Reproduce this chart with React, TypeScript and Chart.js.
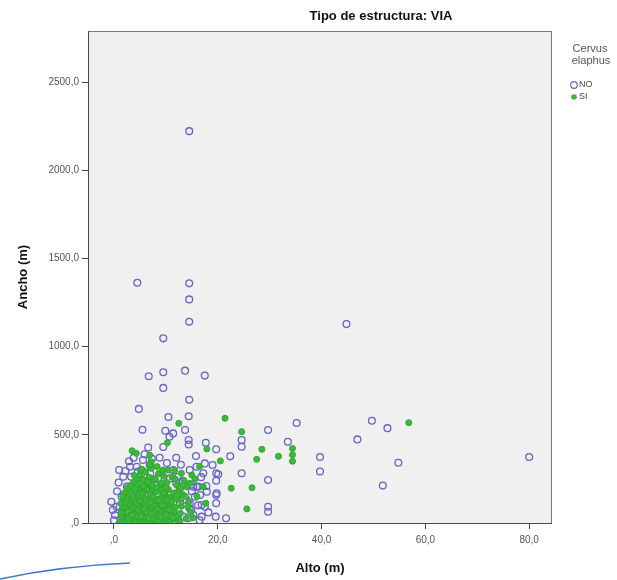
import React, { useEffect, useRef } from 'react';
import { Chart, registerables } from 'chart.js';

Chart.register(...registerables);

const FONT = '"Liberation Sans", Arial, sans-serif';

const TITLE = 'Tipo de estructura: VIA';
const X_LABEL = 'Alto (m)';
const Y_LABEL = 'Ancho (m)';
const LEGEND_TITLE = ['Cervus', 'elaphus'];
const SERIES_NAMES = ['NO', 'SI'];

const X_TICKS = [0, 20, 40, 60, 80];
const Y_TICKS = [0, 500, 1000, 1500, 2000, 2500];
const X_RANGE = [-5, 84.4];
const Y_RANGE = [0, 2790];

// [Alto, Ancho] — Cervus elaphus = NO
const NO_POINTS: [number, number][] = [
  [14.5, 2222], [4.5, 1362], [14.5, 1359], [14.5, 1268], [14.5, 1141], [9.5, 1047], [44.8, 1128],
  [6.7, 832], [9.5, 855], [13.7, 864], [17.5, 836], [9.5, 766], [14.5, 699], [4.8, 647],
  [10.5, 601], [14.4, 605], [5.5, 529], [9.9, 523], [13.7, 527], [29.7, 527], [11.4, 508],
  [10.7, 489], [14.4, 470], [14.4, 445], [17.7, 455], [24.6, 470], [24.6, 432], [33.5, 461],
  [35.2, 567], [6.6, 428], [9.5, 431], [19.7, 418], [22.4, 378], [17.5, 338], [24.6, 282],
  [19.7, 282], [19.7, 240], [29.7, 244], [19.7, 159], [19.7, 112], [19.6, 36], [21.6, 27],
  [29.7, 92], [29.7, 64], [19.8, 168], [19.0, 329], [20.1, 276],
  [39.7, 374], [39.7, 292], [46.9, 474], [49.7, 580], [52.7, 538], [54.8, 342], [51.8, 212], [80.0, 374],
  [1.8, 262], [2.5, 206], [1.5, 149], [0.5, 92], [0.2, 45], [3.1, 319], [4.4, 319], [5.6, 357],
  [6.9, 329], [5.0, 244], [6.6, 168], [8.2, 130], [12.1, 168], [12.7, 112], [14.0, 130],
  [14.6, 83], [15.9, 206], [16.6, 159], [15.3, 45], [13.4, 36], [11.4, 55], [16.9, 36],
  [17.5, 92], [17.9, 177], [12.4, 262], [11.4, 300], [10.8, 253], [14.6, 300], [15.9, 319],
  [17.2, 282], [4.6, 291], [4.6, 225], [3.3, 177], [12.0, 225], [12.7, 197], [14.9, 74],
  [12.3, 27], [14.3, 27], [-0.2, 74], [5.3, 300], [5.9, 187], [4.6, 206], [7.8, 225],
  [3.3, 262], [5.3, 282], [2.1, 130], [1.1, 92], [15.3, 206], [16.2, 206], [15.6, 149],
  [14.6, 112], [16.9, 102], [8.5, 255], [9.8, 215], [7.0, 280], [3.0, 95], [2.6, 60],
  [1.3, 20], [16.2, 100], [15.0, 180], [13.2, 240], [10.2, 340], [8.8, 370], [12.9, 330],
  [0.6, 180], [0.9, 230], [2.2, 295], [2.9, 350], [3.8, 370], [5.9, 390], [7.3, 365],
  [12.0, 370], [15.8, 380], [16.8, 260], [17.8, 210], [18.2, 60], [16.5, 15], [0.0, 15],
  [-0.5, 120], [1.0, 300], [9.5, 10], [7.0, 5], [11.8, 8],
];

// [Alto, Ancho] — Cervus elaphus = SI
const SI_POINTS: [number, number][] = [
  [12.5, 565], [21.4, 594], [24.6, 518], [10.3, 455], [28.5, 418], [17.9, 420], [27.5, 361],
  [31.7, 378], [20.5, 352], [22.6, 197], [26.6, 200], [25.6, 80], [17.7, 112], [34.4, 423],
  [34.4, 387], [34.4, 350], [56.8, 569], [3.5, 410], [4.3, 395], [6.9, 385], [7.2, 347],
  [11.7, 300], [13.0, 282], [14.6, 225], [17.2, 206], [15.0, 272],
  [1.2, 8], [1.8, 22], [2.3, 5], [2.6, 35], [3.0, 14], [3.3, 52], [3.5, 3], [3.9, 28],
  [4.1, 70], [4.4, 10], [4.6, 45], [4.9, 92], [5.1, 18], [5.3, 60], [5.6, 4], [5.8, 110],
  [6.0, 33], [6.2, 75], [6.5, 12], [6.7, 140], [6.9, 50], [7.1, 88], [7.3, 6], [7.5, 25],
  [7.8, 120], [8.0, 62], [8.2, 15], [8.5, 40], [8.7, 95], [9.0, 8], [9.2, 150], [9.4, 55],
  [9.7, 28], [10.0, 80], [10.3, 12], [10.6, 110], [10.9, 45], [11.3, 20], [11.6, 70],
  [12.0, 35], [12.4, 10], [12.8, 55], [2.0, 60], [2.4, 85], [2.9, 120], [3.2, 100],
  [3.6, 150], [4.0, 130], [4.3, 175], [4.8, 160], [5.2, 200], [5.5, 140], [5.9, 180],
  [6.3, 220], [6.6, 105], [7.0, 165], [7.4, 195], [7.7, 240], [8.1, 175], [8.4, 135],
  [8.8, 210], [9.1, 185], [9.5, 120], [9.9, 160], [10.2, 230], [10.5, 190], [10.8, 145],
  [11.2, 260], [11.5, 170], [12.1, 215], [12.5, 130], [13.0, 95], [13.3, 160], [1.5, 40],
  [1.6, 70], [2.1, 130], [2.7, 160], [3.1, 185], [3.8, 230], [4.5, 250], [5.0, 270],
  [5.7, 245], [6.1, 290], [6.8, 260], [7.2, 310], [8.6, 280], [9.6, 265], [10.4, 300],
  [3.4, 75], [4.2, 38], [5.4, 85], [6.4, 58], [7.6, 70], [8.9, 65], [9.8, 100], [11.0, 95],
  [11.9, 140], [12.6, 185], [13.5, 240], [14.0, 205], [14.4, 120], [14.8, 60], [15.2, 30],
  [16.0, 150], [15.6, 250], [16.5, 320],
  [1.4, 55], [1.9, 95], [2.2, 115], [2.5, 140], [2.8, 25], [3.6, 45], [3.7, 88], [4.0, 5],
  [4.3, 112], [4.7, 70], [5.0, 125], [5.2, 40], [5.5, 165], [5.8, 80], [6.1, 128], [6.4, 190],
  [6.6, 30], [6.9, 115], [7.2, 52], [7.5, 150], [7.9, 95], [8.2, 200], [8.4, 80], [8.7, 130],
  [9.0, 35], [9.3, 100], [9.6, 170], [10.0, 48], [10.4, 135], [10.7, 75], [11.1, 120],
  [11.4, 30], [11.8, 90], [12.2, 160], [2.0, 170], [2.6, 200], [3.3, 215], [4.0, 195],
  [4.9, 225], [5.6, 210], [6.5, 235], [7.3, 215], [8.0, 250], [9.2, 225], [10.0, 200],
  [1.3, 110], [1.7, 150], [3.9, 270], [5.3, 305], [6.9, 330], [8.3, 320], [9.4, 300],
  [11.8, 250], [12.9, 200], [13.8, 150], [6.3, 2], [8.6, 5], [10.7, 3], [2.9, 2], [4.8, 0],
  [12.7, 5], [13.9, 25], [14.3, 90],
];

const NO_COLOR = '#6464C4';
const SI_FILL = '#3DB83D';
const SI_BORDER = '#2EA82E';

const fmt = (v: number) => (v === 0 ? ',0' : v.toFixed(1).replace('.', ','));

const decorPlugin = {
  id: 'decor',
  beforeDraw(chart: any) {
    const { ctx, chartArea: a } = chart;
    ctx.save();
    ctx.fillStyle = '#ffffff';
    ctx.fillRect(0, 0, chart.width, chart.height);
    ctx.fillStyle = '#F0F0F0';
    ctx.fillRect(a.left, a.top, a.right - a.left, a.bottom - a.top);
    ctx.restore();
  },
  afterDatasetsDraw(chart: any) {
    const { ctx, chartArea: a } = chart;
    ctx.save();
    ctx.lineWidth = 1;
    ctx.strokeStyle = '#7c7c7c';
    ctx.strokeRect(a.left + 0.5, a.top + 0.5, a.right - a.left - 1, a.bottom - a.top);
    ctx.strokeStyle = '#4a4a4a';
    ctx.beginPath();
    ctx.moveTo(a.left + 0.5, a.top);
    ctx.lineTo(a.left + 0.5, a.bottom + 0.5);
    ctx.lineTo(a.right, a.bottom + 0.5);
    ctx.stroke();
    ctx.restore();
  },
  afterDraw(chart: any) {
    const { ctx } = chart;
    ctx.save();
    // title
    ctx.fillStyle = '#111';
    ctx.font = `bold 13px ${FONT}`;
    ctx.textAlign = 'center';
    ctx.textBaseline = 'middle';
    ctx.fillText(TITLE, 381, 16);
    // legend
    ctx.fillStyle = '#555';
    ctx.font = `11px ${FONT}`;
    ctx.fillText(LEGEND_TITLE[0], 590, 49);
    ctx.fillText(LEGEND_TITLE[1], 591, 61);
    ctx.textAlign = 'left';
    ctx.font = `9px ${FONT}`;
    ctx.beginPath();
    ctx.arc(574, 85, 3.3, 0, Math.PI * 2);
    ctx.strokeStyle = NO_COLOR;
    ctx.lineWidth = 1.2;
    ctx.stroke();
    ctx.fillStyle = '#444';
    ctx.fillText(SERIES_NAMES[0], 579, 85);
    ctx.beginPath();
    ctx.arc(574, 97, 2.8, 0, Math.PI * 2);
    ctx.fillStyle = SI_FILL;
    ctx.fill();
    ctx.fillStyle = '#444';
    ctx.fillText(SERIES_NAMES[1], 579, 97);
    // decorative stroke at bottom-left
    ctx.strokeStyle = '#3b78c4';
    ctx.lineWidth = 1.6;
    ctx.beginPath();
    ctx.moveTo(0, 579);
    ctx.quadraticCurveTo(60, 566, 130, 563);
    ctx.stroke();
    ctx.restore();
  },
};

export default function App() {
  const ref = useRef<HTMLCanvasElement | null>(null);

  useEffect(() => {
    if (!ref.current) return;
    const chart = new Chart(ref.current, {
      type: 'scatter',
      data: {
        datasets: [
          {
            label: SERIES_NAMES[0],
            data: NO_POINTS.map(([x, y]) => ({ x, y })),
            pointStyle: 'circle',
            pointRadius: 3.4,
            pointBorderWidth: 1.3,
            pointBorderColor: NO_COLOR,
            pointBackgroundColor: 'rgba(0,0,0,0)',
            order: 2,
            clip: 0,
          } as any,
          {
            label: SERIES_NAMES[1],
            data: SI_POINTS.map(([x, y]) => ({ x, y })),
            pointStyle: 'circle',
            pointRadius: 3,
            pointBorderWidth: 1,
            pointBorderColor: SI_BORDER,
            pointBackgroundColor: SI_FILL,
            order: 1,
            clip: 0,
          } as any,
        ],
      },
      options: {
        animation: false,
        responsive: false,
        maintainAspectRatio: false,
        events: [],
        layout: { padding: { top: 31, right: 65, bottom: 0, left: 0 } },
        plugins: {
          legend: { display: false },
          title: { display: false },
          tooltip: { enabled: false },
        },
        scales: {
          x: {
            type: 'linear',
            position: 'bottom',
            min: X_RANGE[0],
            max: X_RANGE[1],
            afterBuildTicks: (s: any) => {
              s.ticks = X_TICKS.map((v) => ({ value: v }));
            },
            afterFit: (s: any) => {
              s.height = 57;
            },
            ticks: {
              autoSkip: false,
              maxRotation: 0,
              padding: 5,
              color: '#555',
              font: { family: FONT, size: 10 },
              callback: (v: any) => fmt(Number(v)),
            },
            grid: {
              display: true,
              drawOnChartArea: false,
              drawTicks: true,
              tickLength: 6,
              color: '#444',
            },
            border: { display: false },
            title: {
              display: true,
              text: X_LABEL,
              color: '#111',
              font: { family: FONT, size: 13, weight: 'bold' },
              padding: { top: 0, bottom: 4 },
            },
          },
          y: {
            type: 'linear',
            position: 'left',
            min: Y_RANGE[0],
            max: Y_RANGE[1],
            afterBuildTicks: (s: any) => {
              s.ticks = Y_TICKS.map((v) => ({ value: v }));
            },
            afterFit: (s: any) => {
              s.width = 88;
            },
            ticks: {
              autoSkip: false,
              padding: 3,
              color: '#555',
              font: { family: FONT, size: 10 },
              callback: (v: any) => fmt(Number(v)),
            },
            grid: {
              display: true,
              drawOnChartArea: false,
              drawTicks: true,
              tickLength: 6,
              color: '#444',
            },
            border: { display: false },
            title: {
              display: true,
              text: Y_LABEL,
              color: '#111',
              font: { family: FONT, size: 13, weight: 'bold' },
              padding: { top: 16, bottom: 0 },
            },
          },
        },
      } as any,
      plugins: [decorPlugin],
    });
    return () => chart.destroy();
  }, []);

  return (
    <div style={{ position: 'fixed', left: 0, top: 0, width: 617, height: 580, background: '#fff' }}>
      <canvas ref={ref} width={617} height={580} style={{ width: 617, height: 580, display: 'block' }} />
    </div>
  );
}
